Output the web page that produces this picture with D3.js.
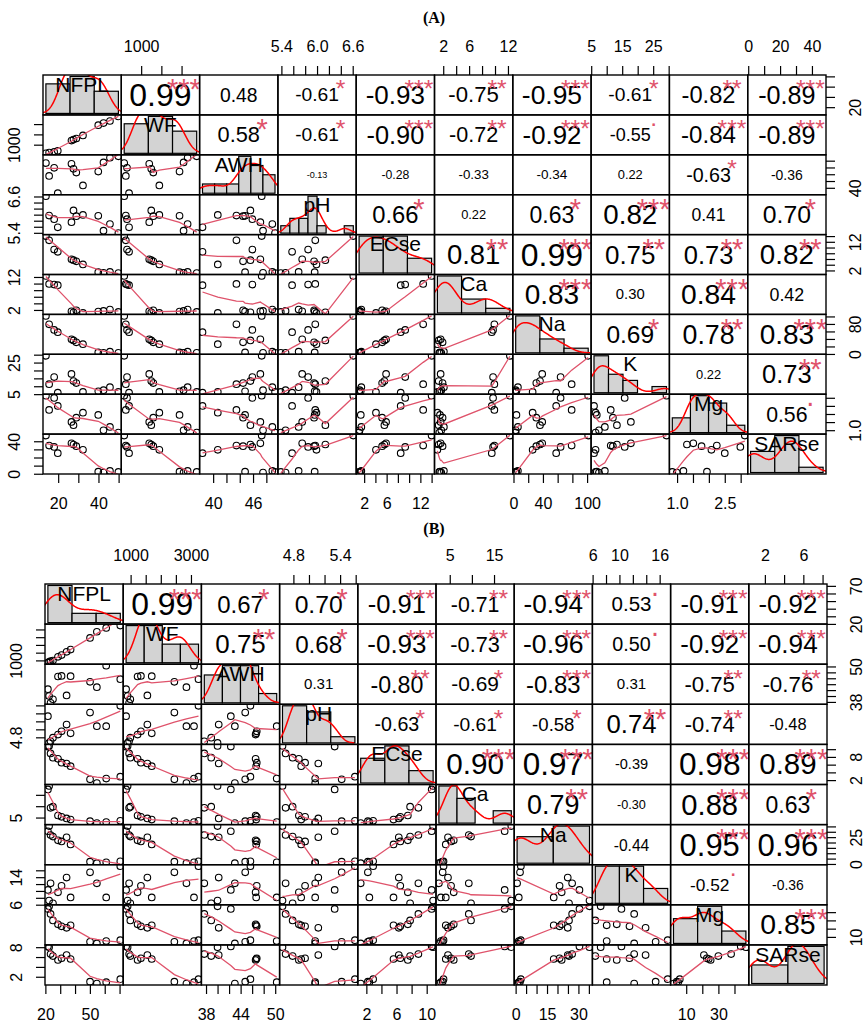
<!DOCTYPE html>
<html>
<head>
<meta charset="utf-8">
<title>Correlation matrix</title>
<script src="https://cdn.jsdelivr.net/npm/d3@7/dist/d3.min.js"></script>
<style>
  body { margin: 0; background: #fff; }
  svg { display: block; }
</style>
</head>
<body>
<div id="chart"></div>
<script>
// variable names (same order in both panels)
var varNames = ["NFPL", "WF", "AWH", "pH", "ECse", "Ca", "Na", "K", "Mg", "SARse"];

// ---- panel A : 12 samples ----
var nfplA  = [13.9, 15.5, 18.0, 19.8, 26.6, 27.6, 29.0, 32.3, 39.9, 42.5, 45.7, 49.9];
var wfA    = [580, 620, 650, 700, 1200, 1250, 1300, 1450, 1950, 2050, 2150, 2375];
var awhA   = [47.3, 43.5, 45.9, 38.4, 47.1, 45.6, 44.5, 40.7, 44.8, 47.5, 48.9, 49.3];
var phA    = [6.61, 5.97, 5.85, 5.58, 5.75, 6.14, 5.95, 5.99, 5.96, 5.47, 5.69, 5.39];
var ecseA  = [14.0, 12.5, 9.3, 8.5, 5.9, 5.6, 5.2, 4.1, 1.4, 1.2, 1.5, 1.1];
var caA    = [12.3, 9.9, 9.7, 9.5, 1.6, 1.3, 1.9, 1.1, 1.5, 1.7, 2.1, 1.4];
var naA    = [101.5, 79, 64, 58, 39, 36, 31, 26, 4, 3, 6, 3];
var kA     = [29.3, 11.3, 15.8, 5.9, 17.8, 13.3, 12.0, 6.4, 6.8, 7.5, 9.4, 6.4];
var mgA    = [3.13, 2.25, 2.99, 2.5, 1.51, 1.31, 1.77, 2.08, 1.94, 0.99, 1.2, 0.85];
var sarseA = [47.0, 34.7, 33.0, 25.3, 37.5, 36.0, 34.0, 29.4, 2.5, 1.5, 3.5, 2.2];

// upper triangle correlations (row by row) and significance marks
var corA = [
    [0.99, 0.48, -0.61, -0.93, -0.75, -0.95, -0.61, -0.82, -0.89],
    [0.58, -0.61, -0.90, -0.72, -0.92, -0.55, -0.84, -0.89],
    [-0.13, -0.28, -0.33, -0.34, 0.22, -0.63, -0.36],
    [0.66, 0.22, 0.63, 0.82, 0.41, 0.70],
    [0.81, 0.99, 0.75, 0.73, 0.82],
    [0.83, 0.30, 0.84, 0.42],
    [0.69, 0.78, 0.83],
    [0.22, 0.73],
    [0.56]
];
var sigA = [
    ["***", "", "*", "***", "**", "***", "*", "**", "***"],
    ["*", "*", "***", "**", "***", ".", "***", "***"],
    ["", "", "", "", "", "*", ""],
    ["*", "", "*", "***", "", "*"],
    ["**", "***", "**", "**", "**"],
    ["***", "", "***", ""],
    ["*", "**", "***"],
    ["", "**"],
    ["."]
];
var breaksA = [[0, 20, 40, 60], [0, 1000, 2000, 3000], [38, 40, 42, 44, 46, 48, 50],
    [5.2, 5.4, 5.6, 5.8, 6.0, 6.2, 6.4, 6.6, 6.8], [0, 5, 10, 15], [0, 5, 10, 15],
    [0, 50, 100, 150], [5, 10, 15, 20, 25, 30], [0, 1, 2, 3, 4], [0, 20, 40, 60]];
var ticksA = [[20, 30, 40, 50], [1000, 1500, 2000], [40, 42, 44, 46, 48],
    [5.4, 5.6, 5.8, 6.0, 6.2, 6.4, 6.6], [2, 4, 6, 8, 10, 12, 14], [2, 4, 6, 8, 10, 12],
    [0, 20, 40, 60, 80, 100], [5, 10, 15, 20, 25, 30], [1.0, 1.5, 2.0, 2.5, 3.0], [0, 10, 20, 30, 40]];
var hLabA = [["20", "40"], ["1000"], ["40", "46"], ["5.4", "6.0", "6.6"], ["2", "6", "12"],
    ["2", "6", "12"], ["0", "40", "100"], ["5", "15", "25"], ["1.0", "2.5"], ["0", "20", "40"]];
var vLabA = [["20"], ["1000"], ["40"], ["5.4", "6.6"], ["2", "12"], ["2", "12"], ["0", "80"],
    ["5", "25"], ["1.0"], ["0", "40"]];

// ---- panel B ----
var nfplB  = [21.7, 22.5, 23.5, 25.1, 28.5, 30.9, 34.3, 37.0, 50.1, 54.7, 61.0, 70.5];
var wfB    = [850, 900, 950, 990, 1231, 1341, 1555, 1700, 2450, 2850, 3100, 3250];
var awhB   = [42.3, 40.0, 37.7, 38.9, 46.6, 46.8, 40.2, 46.7, 44.8, 43.0, 50.26, 45.7];
var phB    = [5.33, 4.66, 4.70, 4.79, 4.87, 4.95, 5.12, 4.90, 5.42, 5.08, 5.08, 5.59];
var ecseB  = [10.66, 10.85, 8.9, 7.8, 7.5, 6.5, 6.3, 5.6, 2.2, 1.25, 2.4, 2.9];
var caB    = [17.4, 18.9, 9.3, 9.8, 5.9, 5.3, 4.6, 4.1, 3.4, 2.55, 3.0, 3.6];
var naB    = [30.5, 35.3, 27.0, 25.5, 22.0, 21.0, 24.9, 18.2, 2.1, 0.7, 1.5, 2.5];
var kB     = [10.3, 7.2, 12.2, 6.4, 9.6, 11.5, 13.9, 8.1, 15.4, 12.2, 8.1, 17.2];
var mgB    = [43.9, 47.1, 37.9, 30.0, 25.2, 22.8, 21.0, 24.0, 4.1, 2.1, 5.0, 6.0];
var sarseB = [8.16, 7.99, 6.6, 6.2, 5.4, 5.75, 6.4, 5.6, 1.0, 0.63, 0.9, 1.5];

var corB = [
    [0.99, 0.67, 0.70, -0.91, -0.71, -0.94, 0.53, -0.91, -0.92],
    [0.75, 0.68, -0.93, -0.73, -0.96, 0.50, -0.92, -0.94],
    [0.31, -0.80, -0.69, -0.83, 0.31, -0.75, -0.76],
    [-0.63, -0.61, -0.58, 0.74, -0.74, -0.48],
    [0.90, 0.97, -0.39, 0.98, 0.89],
    [0.79, -0.30, 0.88, 0.63],
    [-0.44, 0.95, 0.96],
    [-0.52, -0.36],
    [0.85]
];
var sigB = [
    ["***", "*", "*", "***", "**", "***", ".", "***", "***"],
    ["**", "*", "***", "**", "***", ".", "***", "***"],
    ["", "**", "*", "***", "", "**", "**"],
    ["*", "*", "*", "**", "**", ""],
    ["***", "***", "", "***", "***"],
    ["**", "", "***", "*"],
    ["", "***", "***"],
    [".", ""],
    ["***"]
];
var breaksB = [[20, 40, 60, 80], [0, 1000, 2000, 3000, 4000], [35, 40, 45, 50, 55],
    [4.5, 5.0, 5.5, 6.0], [0, 5, 10, 15], [0, 5, 10, 15, 20], [0, 20, 40],
    [5, 10, 15, 20], [0, 20, 40, 60], [0, 5, 10]];
var ticksB = [[20, 30, 40, 50, 60, 70], [1000, 1500, 2000, 2500, 3000], [38, 40, 42, 44, 46, 48, 50],
    [4.8, 5.0, 5.2, 5.4, 5.6], [2, 4, 6, 8, 10], [5, 10, 15], [0, 5, 10, 15, 20, 25, 30, 35],
    [6, 8, 10, 12, 14, 16], [10, 20, 30, 40], [2, 4, 6, 8]];
var hLabB = [["20", "50"], ["1000", "3000"], ["38", "44", "50"], ["4.8", "5.4"], ["2", "6", "10"],
    ["5", "15"], ["0", "15", "30"], ["6", "10", "16"], ["10", "30"], ["2", "6"]];
var vLabB = [["20", "70"], ["1000"], ["38", "50"], ["4.8"], ["2", "8"], ["5"], ["0", "25"],
    ["6", "14"], ["10"], ["2", "8"]];

var W = 865, H = 1022;
var FONT = "'Liberation Sans', Arial, sans-serif";
var tickFs = 16, labelFs = 21;

var svg = d3.select("#chart").append("svg")
    .attr("width", W).attr("height", H)
    .style("background", "#fff");
var defs = svg.append("defs");

// canvas only used to measure glyph ink, so texts can be centred like R does
var ctx = document.createElement("canvas").getContext("2d");
function inkMid(text, fs) {
    ctx.font = fs + "px 'Liberation Sans', Arial, sans-serif";
    var m = ctx.measureText(text);
    return (m.actualBoundingBoxAscent - m.actualBoundingBoxDescent) / 2;
}

// widths of Arial glyphs in em, used to size the r values like R's strwidth
function emWidth(s) {
    var w = 0;
    for (var k = 0; k < s.length; k++) {
        var c = s[k];
        w += c === "-" ? 0.333 : c === "." ? 0.278 : 0.556;
    }
    return w;
}

// gaussian kernel density, bandwidth as bw.nrd0
function kde(values) {
    var n = values.length;
    var s = values.slice().sort(d3.ascending);
    var sd = d3.deviation(s);
    var iqr = d3.quantile(s, 0.75) - d3.quantile(s, 0.25);
    var lo = Math.min(sd, iqr / 1.34);
    if (!lo) lo = sd || Math.abs(s[0]) || 1;
    var bw = 0.9 * lo * Math.pow(n, -0.2);
    var a = s[0] - 3 * bw, b = s[n - 1] + 3 * bw;
    return d3.range(241).map(function (k) {
        var x = a + (b - a) * k / 240;
        var d = d3.mean(s, function (v) {
            var u = (x - v) / bw;
            return Math.exp(-0.5 * u * u) / Math.sqrt(2 * Math.PI);
        }) / bw;
        return [x, d];
    });
}

// lowess smoother (f = 2/3, 3 robustness iterations), as panel.smooth
function lowess(xIn, yIn, f, iter) {
    var order = d3.range(xIn.length).sort(function (a, b) { return xIn[a] - xIn[b]; });
    var x = order.map(function (i) { return xIn[i]; });
    var y = order.map(function (i) { return yIn[i]; });
    var n = x.length;
    var ns = Math.max(Math.min(Math.floor(f * n + 1e-7), n), 2);
    var range = x[n - 1] - x[0];
    var rw = new Array(n).fill(1);
    var ys = new Array(n).fill(0);
    for (var it = 0; it <= iter; it++) {
        var nleft = 0, nright = ns - 1;
        for (var i = 0; i < n; i++) {
            while (nright < n - 1 && x[i] - x[nleft] > x[nright + 1] - x[i]) { nleft++; nright++; }
            var h = Math.max(x[i] - x[nleft], x[nright] - x[i]);
            var h9 = 0.999 * h, h1 = 0.001 * h;
            var w = new Array(n).fill(0);
            var a = 0, last = nleft, j;
            for (j = nleft; j < n; j++) {
                var r = Math.abs(x[j] - x[i]);
                if (r <= h9) {
                    w[j] = (r <= h1 ? 1 : Math.pow(1 - Math.pow(r / h, 3), 3)) * rw[j];
                    a += w[j];
                    last = j;
                } else if (x[j] > x[i]) break;
            }
            if (a <= 0) { ys[i] = y[i]; continue; }
            for (j = nleft; j <= last; j++) w[j] /= a;
            if (h > 0) {
                var m = 0, c = 0;
                for (j = nleft; j <= last; j++) m += w[j] * x[j];
                var bb = x[i] - m;
                for (j = nleft; j <= last; j++) c += w[j] * (x[j] - m) * (x[j] - m);
                if (Math.sqrt(c) > 0.001 * range) {
                    bb /= c;
                    for (j = nleft; j <= last; j++) w[j] *= bb * (x[j] - m) + 1;
                }
            }
            var sum = 0;
            for (j = nleft; j <= last; j++) sum += w[j] * y[j];
            ys[i] = sum;
        }
        if (it === iter) break;
        var res = y.map(function (v, k) { return v - ys[k]; });
        var ar = res.map(Math.abs).sort(d3.ascending);
        var m1 = Math.floor(n / 2);
        var cmad = 3 * (ar[m1] + ar[n - m1 - 1]);
        if (cmad < 1e-7 * d3.mean(y, Math.abs)) break;
        rw = res.map(function (rr) {
            rr = Math.abs(rr);
            return rr <= 0.001 * cmad ? 1 : rr > 0.999 * cmad ? 0 : Math.pow(1 - (rr / cmad) * (rr / cmad), 2);
        });
    }
    return x.map(function (v, k) { return [v, ys[k]]; });
}

function drawHist(cell, values, breaks, name, x0, y0, cw, ch) {
    var n = values.length;
    var dens = breaks.slice(1).map(function (b, k) {
        var cnt = values.filter(function (v) {
            return (v > breaks[k] || (k === 0 && v >= breaks[0])) && v <= b;
        }).length;
        return cnt / (n * (b - breaks[k]));
    });
    var b0 = breaks[0], b1 = breaks[breaks.length - 1], bp = 0.04 * (b1 - b0);
    var hx = d3.scaleLinear().domain([b0 - bp, b1 + bp]).range([x0, x0 + cw]);
    var dmax = d3.max(dens);
    var hy = d3.scaleLinear().domain([-0.04 * dmax, 1.04 * dmax]).range([y0 + ch, y0]);

    cell.selectAll("rect.bar").data(dens).enter().append("rect")
        .attr("class", "bar")
        .attr("x", function (d, k) { return hx(breaks[k]); })
        .attr("width", function (d, k) { return hx(breaks[k + 1]) - hx(breaks[k]); })
        .attr("y", function (d) { return hy(d); })
        .attr("height", function (d) { return hy(0) - hy(d); })
        .attr("fill", "#d3d3d3").attr("stroke", "#000").attr("stroke-width", 1.2);

    var line = d3.line()
        .x(function (d) { return hx(d[0]); })
        .y(function (d) { return hy(d[1]); });
    cell.append("path").attr("d", line(kde(values)))
        .attr("fill", "none").attr("stroke", "#ff0000").attr("stroke-width", 1.5);

    cell.append("text")
        .attr("x", x0 + cw / 2)
        .attr("y", y0 + 0.235 * ch + 0.358 * labelFs)
        .attr("text-anchor", "middle")
        .attr("font-size", labelFs).attr("fill", "#000")
        .text(name);
}

function drawScatter(cell, xv, yv, sx, sy) {
    var pts = xv.map(function (v, k) { return [v, yv[k]]; });
    cell.selectAll("circle").data(pts).enter().append("circle")
        .attr("cx", function (d) { return sx(d[0]); })
        .attr("cy", function (d) { return sy(d[1]); })
        .attr("r", 3.3)
        .attr("fill", "none").attr("stroke", "#000").attr("stroke-width", 1.1);
    var line = d3.line()
        .x(function (d) { return sx(d[0]); })
        .y(function (d) { return sy(d[1]); });
    cell.append("path").attr("d", line(lowess(xv, yv, 2 / 3, 3)))
        .attr("fill", "none").attr("stroke", "#df536b").attr("stroke-width", 1.3);
}

function drawCor(cell, r, sig, x0, y0, cw, ch) {
    var txt = r.toFixed(2);
    var base = 0.8 * cw / emWidth(txt);
    var fs = base * (Math.abs(r) + 0.3) / 1.3;
    cell.append("text")
        .attr("x", x0 + cw / 2)
        .attr("y", y0 + ch / 2 + inkMid(txt, fs))
        .attr("text-anchor", "middle")
        .attr("font-size", fs).attr("fill", "#000")
        .text(txt);
    if (sig) {
        var sfs = 0.9 * base;
        cell.append("text")
            .attr("x", x0 + 0.8 * cw)
            .attr("y", y0 + 0.25 * ch + inkMid(sig, sfs))
            .attr("text-anchor", "middle")
            .attr("font-size", sfs).attr("fill", "#df536b")
            .text(sig);
    }
}

function labelFormat(labels) {
    return function (d) {
        var s = labels.find(function (l) { return Math.abs(+l - d) < 1e-9; });
        return s === undefined ? "" : s;
    };
}

function styleAxis(ga) {
    ga.select(".domain").remove();
    ga.attr("font-size", tickFs).attr("font-family", FONT).attr("color", "#000");
    ga.selectAll("line").attr("stroke-width", 1.2);
}

function drawPanel(p) {
    var nv = varNames.length;
    var cw = p.width / nv, ch = p.height / nv;
    var g = svg.append("g").style("font-family", FONT);

    var xs = p.vars.map(function (v, k) {
        var e = d3.extent(v), pad = 0.04 * (e[1] - e[0]);
        return d3.scaleLinear().domain([e[0] - pad, e[1] + pad]).range([p.left + k * cw, p.left + (k + 1) * cw]);
    });
    var ys = p.vars.map(function (v, k) {
        var e = d3.extent(v), pad = 0.04 * (e[1] - e[0]);
        return d3.scaleLinear().domain([e[0] - pad, e[1] + pad]).range([p.top + (k + 1) * ch, p.top + k * ch]);
    });

    for (var i = 0; i < nv; i++) {
        for (var j = 0; j < nv; j++) {
            var x0 = p.left + j * cw, y0 = p.top + i * ch;
            var cid = "clip" + p.id + "_" + i + "_" + j;
            defs.append("clipPath").attr("id", cid).append("rect")
                .attr("x", x0).attr("y", y0).attr("width", cw).attr("height", ch);
            var cell = g.append("g").attr("clip-path", "url(#" + cid + ")");
            if (i === j) drawHist(cell, p.vars[i], p.breaks[i], varNames[i], x0, y0, cw, ch);
            else if (i > j) drawScatter(cell, p.vars[j], p.vars[i], xs[j], ys[i]);
            else drawCor(cell, p.cor[i][j - i - 1], p.sig[i][j - i - 1], x0, y0, cw, ch);
        }
    }

    // panel boxes
    g.selectAll("rect.box").data(d3.cross(d3.range(nv), d3.range(nv))).enter().append("rect")
        .attr("class", "box")
        .attr("x", function (d) { return p.left + d[1] * cw; })
        .attr("y", function (d) { return p.top + d[0] * ch; })
        .attr("width", cw).attr("height", ch)
        .attr("fill", "none").attr("stroke", "#000").attr("stroke-width", 1.4);

    // axes alternate like pairs(): top/left on even panels, bottom/right on odd ones
    var off = 29;
    for (var k = 0; k < nv; k++) {
        var xt = p.ticks[k].filter(function (t) { var d = xs[k].domain(); return t >= d[0] && t <= d[1]; });
        var yt = p.ticks[k].filter(function (t) { var d = ys[k].domain(); return t >= d[0] && t <= d[1]; });
        var ga;
        if (k % 2 === 1) {
            ga = g.append("g").attr("transform", "translate(0," + p.top + ")")
                .call(d3.axisTop(xs[k]).tickValues(xt).tickSize(9).tickFormat(labelFormat(p.hLab[k])));
            styleAxis(ga);
            ga.selectAll("text").attr("dy", null).attr("y", -off + 0.358 * tickFs);
            ga = g.append("g").attr("transform", "translate(" + p.left + ",0)")
                .call(d3.axisLeft(ys[k]).tickValues(yt).tickSize(9).tickFormat(labelFormat(p.vLab[k])));
            styleAxis(ga);
            ga.selectAll("text").attr("dy", null).attr("x", 0).attr("y", 0.358 * tickFs)
                .attr("text-anchor", "middle")
                .attr("transform", "translate(" + (-off) + ",0) rotate(-90)");
        } else {
            ga = g.append("g").attr("transform", "translate(0," + (p.top + p.height) + ")")
                .call(d3.axisBottom(xs[k]).tickValues(xt).tickSize(9).tickFormat(labelFormat(p.hLab[k])));
            styleAxis(ga);
            ga.selectAll("text").attr("dy", null).attr("y", off + 0.358 * tickFs);
            ga = g.append("g").attr("transform", "translate(" + (p.left + p.width) + ",0)")
                .call(d3.axisRight(ys[k]).tickValues(yt).tickSize(9).tickFormat(labelFormat(p.vLab[k])));
            styleAxis(ga);
            ga.selectAll("text").attr("dy", null).attr("x", 0).attr("y", 0.358 * tickFs)
                .attr("text-anchor", "middle")
                .attr("transform", "translate(" + off + ",0) rotate(-90)");
        }
    }

    svg.append("text")
        .attr("x", 434).attr("y", p.titleY)
        .attr("text-anchor", "middle")
        .attr("font-family", "'Liberation Serif', 'Times New Roman', serif")
        .attr("font-weight", "bold").attr("font-size", 16)
        .text(p.title);
}

drawPanel({
    id: "A", title: "(A)", titleY: 23,
    left: 43, top: 75, width: 783, height: 399,
    vars: [nfplA, wfA, awhA, phA, ecseA, caA, naA, kA, mgA, sarseA],
    breaks: breaksA, ticks: ticksA, hLab: hLabA, vLab: vLabA, cor: corA, sig: sigA
});
drawPanel({
    id: "B", title: "(B)", titleY: 534,
    left: 45, top: 584, width: 782, height: 401,
    vars: [nfplB, wfB, awhB, phB, ecseB, caB, naB, kB, mgB, sarseB],
    breaks: breaksB, ticks: ticksB, hLab: hLabB, vLab: vLabB, cor: corB, sig: sigB
});
</script>
</body>
</html>
